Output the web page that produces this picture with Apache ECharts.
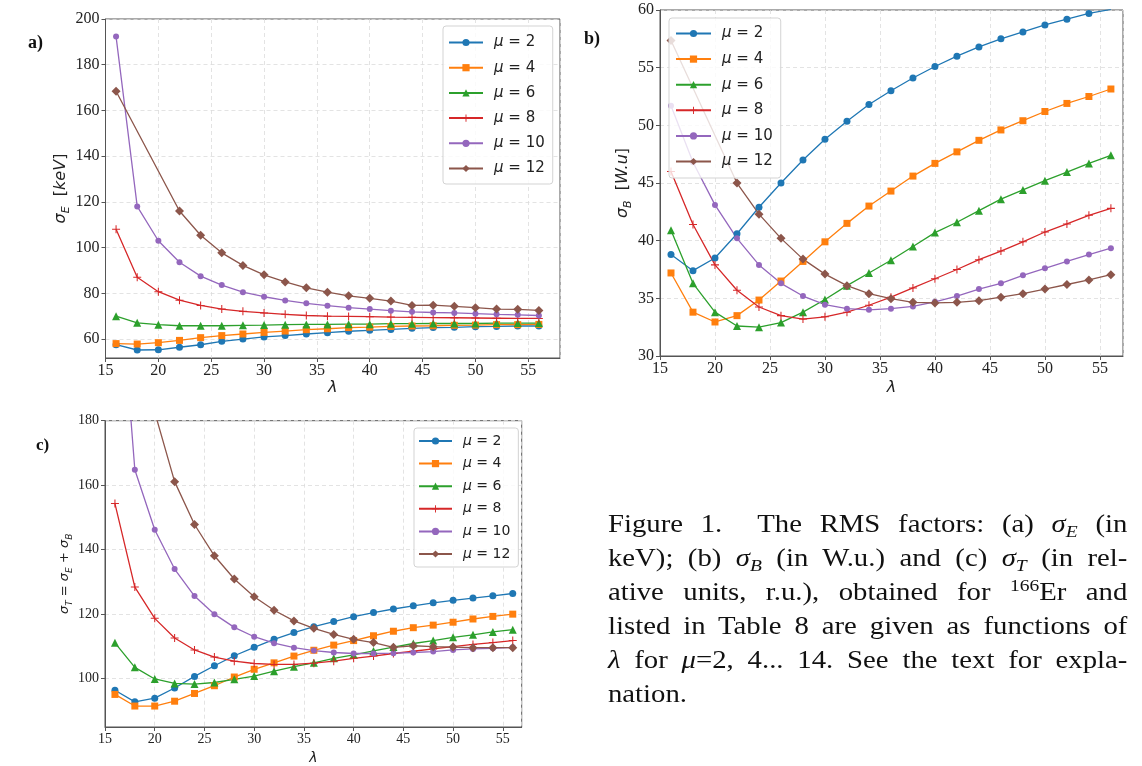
<!DOCTYPE html>
<html>
<head>
<meta charset="utf-8">
<script src="https://cdn.jsdelivr.net/npm/echarts@6/dist/echarts.min.js"></script>
<style>
  html, body { margin: 0; padding: 0; background: #fff; }
  #chart { position: absolute; left: 0; top: 0; width: 1142px; height: 766px; }
  .caption {
    position: absolute; left: 608px; top: 507px; width: 470px;
    transform: scaleX(1.105); transform-origin: 0 0;
    font-family: 'Liberation Serif', serif; font-size: 26px; line-height: 34px; color: #111;
  }
  .caption div { text-align: justify; text-align-last: justify; }
  .caption div.last { text-align-last: left; }
  .caption sub, .caption sup { font-size: 0.68em; line-height: 0; vertical-align: baseline; position: relative; }
  .caption sub { top: 0.3em; }
  .caption sup { top: -0.5em; }
</style>
</head>
<body>
<div id="chart"></div>
<div class="caption">
  <div>Figure 1.&nbsp; The RMS factors: (a) <i>σ<sub>E</sub></i> (in</div>
  <div>keV); (b) <i>σ<sub>B</sub></i> (in W.u.) and (c) <i>σ<sub>T</sub></i> (in rel-</div>
  <div>ative units, r.u.), obtained for <sup>166</sup>Er and</div>
  <div>listed in Table 8 are given as functions of</div>
  <div><i>λ</i> for <i>μ</i>=2, 4... 14. See the text for expla-</div>
  <div class="last">nation.</div>
</div>
<script>
  // lambda values (x) shared by all three panels
  var lambdas = [16, 18, 20, 22, 24, 26, 28, 30, 32, 34, 36, 38, 40, 42, 44, 46, 48, 50, 52, 54, 56];
  var muNames = ['μ = 2', 'μ = 4', 'μ = 6', 'μ = 8', 'μ = 10', 'μ = 12'];

  // a) sigma_E [keV]
  var aMu2  = [57.5, 55.2, 55.3, 56.4, 57.5, 59.0, 60.0, 60.9, 61.5, 62.2, 62.8, 63.4, 63.8, 64.2, 64.7, 65.0, 65.1, 65.4, 65.5, 65.7, 65.7];
  var aMu4  = [58.0, 57.8, 58.4, 59.4, 60.6, 61.5, 62.2, 62.9, 63.5, 64.1, 64.5, 65.0, 65.2, 65.5, 65.7, 65.8, 66.0, 66.1, 66.3, 66.3, 66.4];
  var aMu6  = [70.0, 67.1, 66.3, 65.8, 65.8, 65.8, 66.0, 66.1, 66.3, 66.4, 66.4, 66.5, 66.5, 66.7, 66.7, 66.8, 66.8, 66.8, 67.0, 67.0, 67.0];
  var aMu8  = [108.0, 87.0, 80.7, 77.0, 74.7, 73.1, 72.1, 71.4, 70.8, 70.3, 70.0, 69.9, 69.8, 69.6, 69.5, 69.4, 69.3, 69.2, 69.1, 69.0, 69.0];
  var aMu10 = [192.3, 118.0, 103.0, 93.6, 87.5, 83.6, 80.5, 78.5, 76.9, 75.6, 74.6, 73.7, 73.1, 72.4, 71.9, 71.6, 71.4, 71.1, 70.8, 70.6, 70.3];
  var aMu12 = [168.4, null, null, 116.0, 105.4, 97.7, 92.2, 88.1, 85.0, 82.4, 80.5, 78.9, 77.8, 76.6, 74.7, 74.8, 74.3, 73.7, 73.1, 73.0, 72.5];

  // b) sigma_B [W.u]
  var bMu2  = [38.8, 37.4, 38.5, 40.6, 42.9, 45.0, 47.0, 48.8, 50.35, 51.8, 53.0, 54.1, 55.1, 56.0, 56.8, 57.5, 58.1, 58.7, 59.2, 59.7, 60.05];
  var bMu4  = [37.2, 33.8, 32.95, 33.5, 34.85, 36.5, 38.2, 39.9, 41.5, 43.0, 44.3, 45.6, 46.7, 47.7, 48.7, 49.6, 50.4, 51.2, 51.9, 52.5, 53.15];
  var bMu6  = [40.9, 36.3, 33.8, 32.6, 32.5, 32.9, 33.8, 34.9, 36.1, 37.2, 38.3, 39.5, 40.7, 41.6, 42.6, 43.6, 44.4, 45.2, 45.95, 46.7, 47.4];
  var bMu8  = [46.0, 41.4, 37.9, 35.7, 34.25, 33.5, 33.2, 33.4, 33.8, 34.4, 35.1, 35.9, 36.7, 37.5, 38.35, 39.1, 39.9, 40.75, 41.45, 42.2, 42.8];
  var bMu10 = [51.7, 46.8, 43.1, 40.2, 37.9, 36.3, 35.2, 34.45, 34.1, 34.0, 34.1, 34.3, 34.7, 35.2, 35.8, 36.3, 37.0, 37.6, 38.2, 38.8, 39.35];
  var bMu12 = [57.35, null, null, 45.0, 42.3, 40.2, 38.4, 37.1, 36.1, 35.4, 34.97, 34.65, 34.6, 34.65, 34.8, 35.1, 35.4, 35.8, 36.2, 36.6, 37.05];

  // c) sigma_T = sigma_E + sigma_B
  var cMu2  = [96.4, 92.8, 93.95, 97.1, 100.7, 104.0, 107.1, 109.7, 112.2, 114.3, 116.1, 117.7, 119.2, 120.5, 121.6, 122.6, 123.5, 124.3, 125.0, 125.7, 126.4];
  var cMu4  = [95.1, 91.5, 91.5, 93.0, 95.4, 97.8, 100.5, 102.9, 104.9, 107.0, 108.8, 110.4, 111.8, 113.3, 114.7, 115.8, 116.6, 117.5, 118.5, 119.3, 120.0];
  var cMu6  = [111.1, 103.5, 99.9, 98.5, 98.3, 98.8, 99.8, 100.8, 102.3, 103.7, 104.9, 106.3, 107.4, 108.6, 109.8, 110.9, 111.8, 112.8, 113.6, 114.5, 115.2];
  var cMu8  = [154.3, 128.4, 118.7, 112.6, 108.9, 106.7, 105.4, 104.7, 104.4, 104.4, 104.8, 105.4, 106.3, 107.0, 107.8, 108.5, 109.2, 109.9, 110.6, 111.2, 111.8];
  var cMu10 = [244.0, 164.8, 146.2, 134.0, 125.6, 120.0, 115.9, 113.0, 111.0, 109.6, 108.7, 108.1, 107.8, 107.8, 107.9, 108.1, 108.4, 108.9, 109.2, 109.4, 109.7];
  var cMu12 = [225.8, null, null, 161.1, 147.8, 138.1, 130.9, 125.4, 121.2, 117.9, 115.6, 113.7, 112.2, 111.2, 109.7, 110.2, 109.9, 109.8, 109.6, 109.6, 109.6];

  var panels = [
    [aMu2, aMu4, aMu6, aMu8, aMu10, aMu12],
    [bMu2, bMu4, bMu6, bMu8, bMu10, bMu12],
    [cMu2, cMu4, cMu6, cMu8, cMu10, cMu12]
  ];

  var colors = ['#1f77b4', '#ff7f0e', '#2ca02c', '#d62728', '#9467bd', '#8c564b'];
  var plus = 'path://M-1,-0.13H1V0.13H-1Z M-0.13,-1H0.13V1H-0.13Z';
  var symbols = ['circle', 'rect', 'triangle', plus, 'circle', 'diamond'];
  var symSizes = [7, 7, 8, 8, 6, 9];

  var serif = 'Liberation Serif';
  var sans = 'DejaVu Sans';
  var axisCol = '#555';

  var chart = echarts.init(document.getElementById('chart'));

  function mkX(idx, max, fs, gap) {
    return {
      type: 'value', gridIndex: idx, min: 15, max: max, interval: 5,
      axisLine: { show: true, lineStyle: { color: axisCol, width: 1 } },
      axisTick: { show: true, length: 4, lineStyle: { color: axisCol } },
      axisLabel: { fontFamily: serif, fontSize: fs, color: '#222', margin: 5, showMaxLabel: false },
      splitLine: { show: true, lineStyle: { color: '#dcdcdc', width: 0.8, type: [4, 3] } },
      name: 'λ', nameLocation: 'middle', nameGap: gap,
      nameTextStyle: { fontFamily: sans, fontStyle: 'italic', fontSize: fs, color: '#222' }
    };
  }

  function mkY(idx, min, max, step, fs, name, gap, nfs) {
    return {
      type: 'value', gridIndex: idx, min: min, max: max, minInterval: step, maxInterval: step,
      axisLine: { show: true, lineStyle: { color: axisCol, width: 1 } },
      axisTick: { show: true, length: 4, lineStyle: { color: axisCol } },
      axisLabel: { fontFamily: serif, fontSize: fs, color: '#222', margin: 6, showMinLabel: min % step === 0 },
      splitLine: { show: true, lineStyle: { color: '#dcdcdc', width: 0.8, type: [4, 3] } },
      name: name, nameLocation: 'middle', nameGap: gap,
      nameTextStyle: {
        fontFamily: sans, fontSize: nfs, color: '#222',
        rich: {
          s: { fontFamily: sans, fontStyle: 'italic', fontSize: nfs, lineHeight: nfs + 6, verticalAlign: 'middle', color: '#222' },
          sb: { fontFamily: sans, fontStyle: 'italic', fontSize: Math.round(nfs * 0.7), lineHeight: Math.round(nfs * 0.75), verticalAlign: 'bottom', color: '#222' },
          k: { fontFamily: sans, fontSize: nfs, color: '#222' },
          ki: { fontFamily: sans, fontStyle: 'italic', fontSize: nfs, color: '#222' }
        }
      }
    };
  }

  function mkLegend(left, top, gap, pad, fs, iw) {
    return {
      orient: 'vertical', left: left, top: top, data: muNames, selectedMode: false,
      itemWidth: iw, itemHeight: 9, itemGap: gap, padding: pad,
      backgroundColor: 'rgba(255,255,255,0.8)', borderColor: '#d3d3d3', borderWidth: 1, borderRadius: 3,
      formatter: function (n) { return n.replace('μ', '{m|μ}'); },
      textStyle: {
        fontFamily: sans, fontSize: fs, color: '#222', lineHeight: 14, padding: [0, 0, 0, 6],
        rich: { m: { fontFamily: sans, fontStyle: 'italic', fontSize: fs, lineHeight: 14, color: '#222' } }
      }
    };
  }

  var series = [];
  panels.forEach(function (sets, p) {
    sets.forEach(function (vals, i) {
      series.push({
        type: 'line', name: muNames[i], xAxisIndex: p, yAxisIndex: p,
        data: lambdas.map(function (l, k) { return [l, vals[k] == null ? '-' : vals[k]]; }),
        connectNulls: true, clip: true,
        symbol: symbols[i], symbolSize: symSizes[i], showAllSymbol: true,
        lineStyle: { color: colors[i], width: 1.3 },
        itemStyle: { color: colors[i], borderWidth: 0 },
        emphasis: { disabled: true }
      });
    });
  });

  chart.setOption({
    animation: false,
    backgroundColor: '#fff',
    grid: [
      { left: 105.5, top: 19, width: 454.5, height: 339, show: true, borderColor: axisCol, borderWidth: 1 },
      { left: 660, top: 10, width: 463, height: 346, show: true, borderColor: axisCol, borderWidth: 1 },
      { left: 105, top: 420.7, width: 416.7, height: 309.7, show: true, borderColor: axisCol, borderWidth: 1 }
    ],
    xAxis: [
      mkX(0, 58, 16, 22),
      mkX(1, 57.1, 16, 24),
      mkX(2, 56.9, 14, 24)
    ],
    yAxis: [
      mkY(0, 51.7, 200, 20, 16, '{s|σ}{sb|E}  {k|[}{ki|keV}{k|]}', 29, 16),
      mkY(1, 30, 60, 5, 16, '{s|σ}{sb|B}  {k|[}{ki|W.u}{k|]}', 26, 16),
      mkY(2, 85, 180, 20, 14, '{s|σ}{sb|T} = {s|σ}{sb|E} + {s|σ}{sb|B}', 31, 13)
    ],
    legend: [
      mkLegend(443, 26, 10.2, [9, 8, 8, 5], 15, 34),
      mkLegend(669, 18, 10.6, [8, 8, 9, 6], 15, 35),
      mkLegend(414, 428, 8.6, [6, 8, 6, 4], 14, 33)
    ],
    graphic: [
      { type: 'text', left: 28, top: 34, style: { text: 'a)', font: 'bold 18px "Liberation Serif"', fill: '#111' } },
      { type: 'text', left: 584, top: 30, style: { text: 'b)', font: 'bold 18px "Liberation Serif"', fill: '#111' } },
      { type: 'text', left: 36, top: 437, style: { text: 'c)', font: 'bold 17px "Liberation Serif"', fill: '#111' } }
    ],
    series: series
  });
</script>
</body>
</html>
